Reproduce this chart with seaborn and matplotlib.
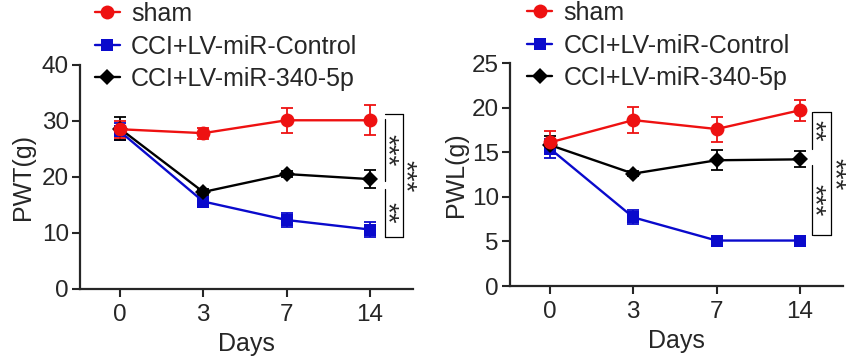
import numpy as np
import pandas as pd
import matplotlib
matplotlib.use('Agg')
import matplotlib.pyplot as plt
import seaborn as sns

# Daten
days = ['0', '3', '7', '14']
groups = ['sham', 'CCI+LV-miR-Control', 'CCI+LV-miR-340-5p']

pwt_sham = [28.5, 27.8, 30.1, 30.1]
pwt_sham_err = [1.5, 1.0, 2.2, 2.7]
pwt_ctrl = [28.1, 15.6, 12.3, 10.6]
pwt_ctrl_err = [1.5, 0.8, 1.3, 1.3]
pwt_mir = [28.6, 17.3, 20.5, 19.6]
pwt_mir_err = [2.0, 0.5, 0.5, 1.6]

pwl_sham = [16.1, 18.6, 17.6, 19.7]
pwl_sham_err = [1.3, 1.5, 1.4, 1.2]
pwl_ctrl = [15.4, 7.7, 5.1, 5.1]
pwl_ctrl_err = [1.1, 0.8, 0.3, 0.2]
pwl_mir = [15.8, 12.6, 14.1, 14.2]
pwl_mir_err = [1.0, 0.3, 1.1, 0.9]

# Signifikanz: (x, y_oben, y_unten, text, mit Klammer)
pwt_sig = [(3.18, 30.3, 19.2, '***', False), (3.18, 17.8, 9.35, '**', False),
           (3.40, 31.2, 9.2, '***', True)]
pwl_sig = [(3.14, 19.5, 15.4, '**', False), (3.14, 13.6, 5.7, '***', False),
           (3.38, 19.5, 5.7, '***', True)]

sns.set_style('ticks')
plt.rcParams['font.family'] = ['Liberation Sans', 'DejaVu Sans']

colors = {'sham': '#ee1111', 'CCI+LV-miR-Control': '#0a0acc', 'CCI+LV-miR-340-5p': 'black'}
markers = {'sham': 'o', 'CCI+LV-miR-Control': 's', 'CCI+LV-miR-340-5p': 'D'}
msizes = {'sham': 10, 'CCI+LV-miR-Control': 9, 'CCI+LV-miR-340-5p': 8}

fig = plt.figure(figsize=(8.63, 3.58), dpi=100)
ax1 = fig.add_axes([0.0927, 0.193, 0.386, 0.626])
ax2 = fig.add_axes([0.591, 0.201, 0.386, 0.623])

def draw_panel(ax, series, ylim, yticks, ylabel, sig, legend_anchor, ypad):
    pos = np.arange(len(days))
    # Reihenfolge: Kontrolle, miR, sham oben
    for name in [groups[1], groups[2], groups[0]]:
        vals, errs = series[name]
        ax.errorbar(pos, vals, yerr=errs, fmt='none', ecolor=colors[name],
                    elinewidth=1.3, capsize=4.5, capthick=1.3, zorder=2)
        sns.lineplot(x=pos, y=vals, ax=ax, color=colors[name], marker=markers[name],
                     markersize=msizes[name], markeredgewidth=0, linewidth=1.7,
                     label=name, zorder=3)
    handles, labels = ax.get_legend_handles_labels()
    order = [labels.index(g) for g in groups]
    ax.legend([handles[i] for i in order], [labels[i] for i in order],
              loc='upper left', bbox_to_anchor=legend_anchor, bbox_transform=fig.transFigure,
              frameon=False, fontsize=18, handlelength=1.0, handletextpad=0.45,
              labelspacing=0.34, borderaxespad=0, borderpad=0)
    ax.set_xlim(-0.48, 3.52)
    ax.set_ylim(*ylim)
    ax.set_xticks(pos)
    ax.set_xticklabels(days)
    ax.set_yticks(yticks)
    ax.tick_params(labelsize=17.5, width=1.5, length=6, pad=2)
    ax.tick_params(axis='x', pad=5)
    ax.set_xlabel('Days', fontsize=18, labelpad=4)
    ax.set_ylabel(ylabel, fontsize=18, labelpad=ypad)
    for s in ['left', 'bottom']:
        ax.spines[s].set_linewidth(1.6)
    sns.despine(ax=ax)
    for x, y1, y2, txt, bracket in sig:
        ax.plot([x, x], [y1, y2], color='black', linewidth=0.9, clip_on=False)
        if bracket:
            ax.plot([x - 0.22, x], [y1, y1], color='black', linewidth=0.9, clip_on=False)
            ax.plot([x - 0.22, x], [y2, y2], color='black', linewidth=0.9, clip_on=False)
        ax.text(x + 0.02, (y1 + y2) / 2, txt, rotation=270, ha='center', va='center',
                fontsize=20, clip_on=False)

draw_panel(ax1, {groups[0]: (pwt_sham, pwt_sham_err), groups[1]: (pwt_ctrl, pwt_ctrl_err),
                 groups[2]: (pwt_mir, pwt_mir_err)},
           (0, 40), [0, 10, 20, 30, 40], 'PWT(g)', pwt_sig, (0.110, 0.994), 5)
draw_panel(ax2, {groups[0]: (pwl_sham, pwl_sham_err), groups[1]: (pwl_ctrl, pwl_ctrl_err),
                 groups[2]: (pwl_mir, pwl_mir_err)},
           (0, 25), [0, 5, 10, 15, 20, 25], 'PWL(g)', pwl_sig, (0.611, 0.997), 3)

fig.savefig('out.png', dpi=100)
